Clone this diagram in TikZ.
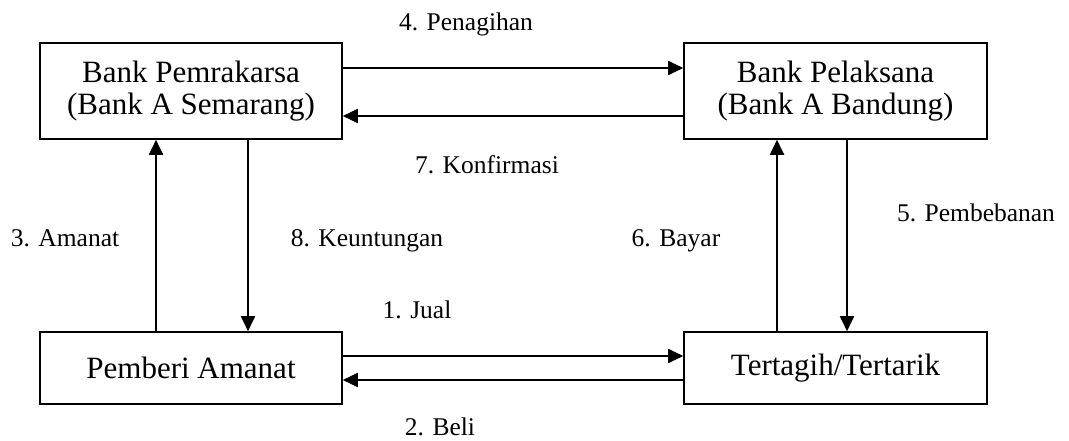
\documentclass[tikz,border=0pt]{standalone}
\usepackage{fontspec}
\setmainfont{Liberation Serif}
\usetikzlibrary{arrows.meta}
\begin{document}
\begin{tikzpicture}[x=1pt,y=-1pt,
  party/.style={draw,line width=1.6pt,rectangle,align=center,inner sep=0pt,
    font=\fontsize{31}{32}\selectfont},
  flow/.style={line width=1.9pt,-{Triangle[length=15pt,width=14pt]}},
  lbl/.style={anchor=base,inner sep=0pt,font=\fontsize{25.5}{27}\selectfont}]
\useasboundingbox (0,0) rectangle (1069,441);

% parties
\node[party,minimum width=302pt,minimum height=96pt] (A) at (191,91)
  {Bank Pemrakarsa\\(Bank A Semarang)};
\node[party,minimum width=303pt,minimum height=96pt] (B) at (835.5,91)
  {Bank Pelaksana\\(Bank A Bandung)};
\node[party,minimum width=302pt,minimum height=72pt] (C) at (191,368)
  {Pemberi Amanat};
\node[party,minimum width=303pt,minimum height=72pt] (D) at (835.5,368)
  {Tertagih/Tertarik};

% connector tracks
\coordinate (h4) at (0,68);
\coordinate (h7) at (0,116);
\coordinate (h1) at (0,356);
\coordinate (h2) at (0,380);
\coordinate (v3) at (156,0);
\coordinate (v8) at (248,0);
\coordinate (v6) at (777,0);
\coordinate (v5) at (847,0);

% flows
\draw[flow] (A.east |- h4) -- (B.west |- h4);
\draw[flow] (B.west |- h7) -- (A.east |- h7);
\draw[flow] (C.east |- h1) -- (D.west |- h1);
\draw[flow] (D.west |- h2) -- (C.east |- h2);
\draw[flow] (C.north -| v3) -- (A.south -| v3);
\draw[flow] (A.south -| v8) -- (C.north -| v8);
\draw[flow] (D.north -| v6) -- (B.south -| v6);
\draw[flow] (B.south -| v5) -- (D.north -| v5);

% labels
\node[lbl] (l4) at (466,31) {4. Penagihan};
\node[lbl] (l7) at (487,174) {7. Konfirmasi};
\node[lbl] (l3) at (65,247) {3. Amanat};
\node[lbl] (l8) at (367,247) {8. Keuntungan};
\node[lbl] (l6) at (676,247) {6. Bayar};
\node[lbl] (l5) at (976,222) {5. Pembebanan};
\node[lbl] (l1) at (417,318) {1. Jual};
\node[lbl] (l2) at (440,435) {2. Beli};
\end{tikzpicture}
\end{document}
